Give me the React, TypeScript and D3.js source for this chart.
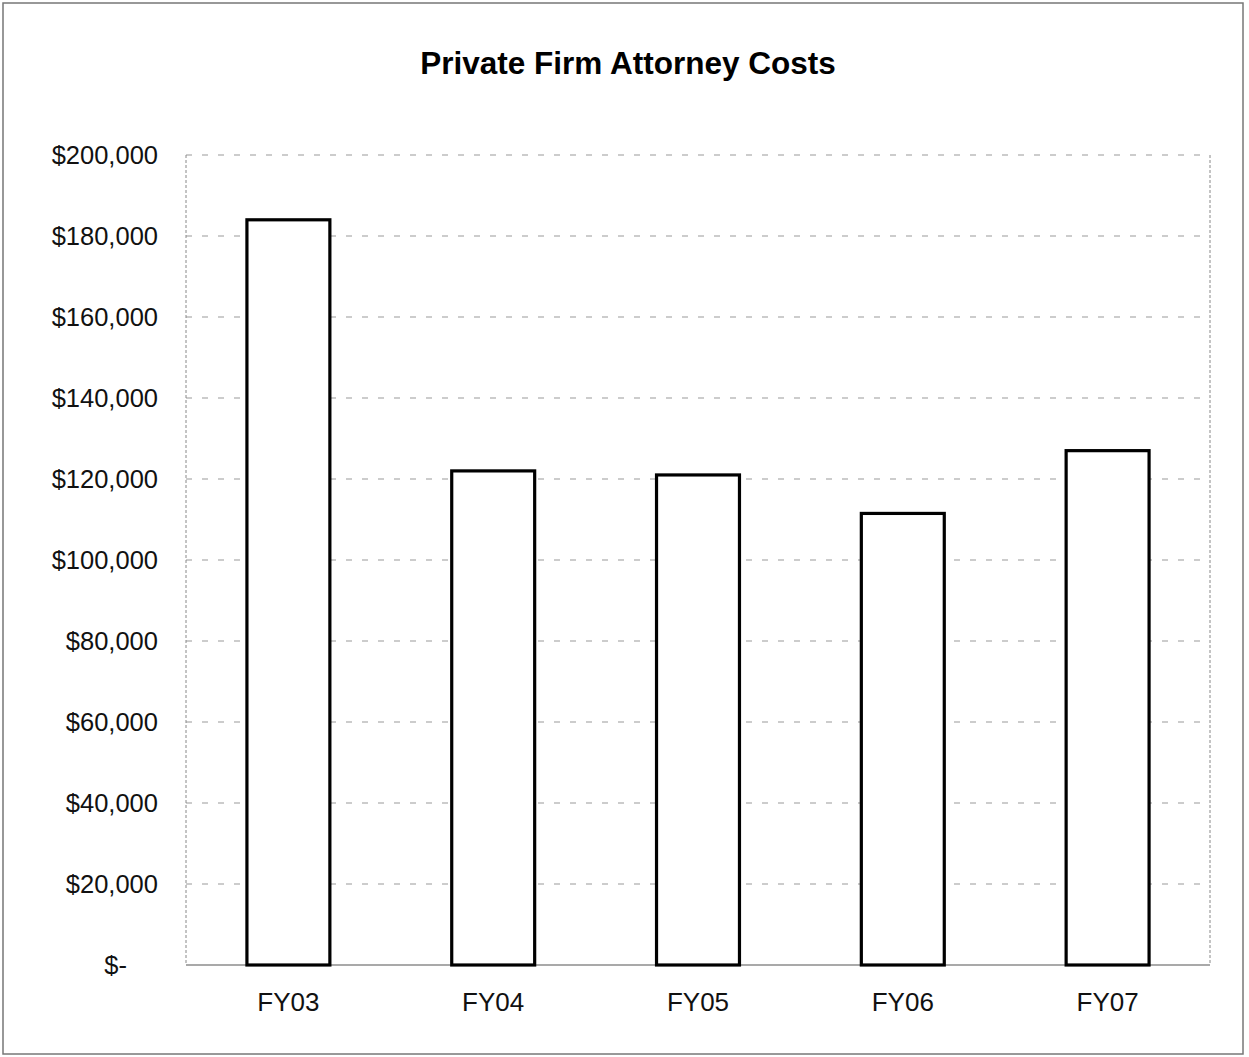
import React from "react";
import * as d3 from "d3";

const categories = ["FY03", "FY04", "FY05", "FY06", "FY07"];
const values = [184000, 122000, 121000, 111500, 127000];
const yTicks = [0, 20000, 40000, 60000, 80000, 100000, 120000, 140000, 160000, 180000, 200000];
const title = "Private Firm Attorney Costs";

export default function App() {
  const W = 1249, H = 1057;
  const left = 186, right = 1210, top = 155, bottom = 965;
  const x = d3.scaleBand<string>().domain(categories).range([left, right]).paddingInner(0.595).paddingOuter(0.2975);
  const y = d3.scaleLinear().domain([0, 200000]).range([bottom, top]);
  const fmt = (v: number) => (v === 0 ? "$-" : "$" + d3.format(",")(v));
  const font = "'Liberation Sans', Arial, sans-serif";
  return (
    <svg width={W} height={H} style={{ position: "absolute", left: 0, top: 0, background: "#fff" }}>
      <rect x={3} y={3} width={1240} height={1051} fill="#fff" stroke="#777" strokeWidth={1.5} />
      <text x={628} y={74} textAnchor="middle" fontFamily={font} fontWeight="bold" fontSize={31.5}>{title}</text>
      {yTicks.map((t) => (
        <g key={t}>
          {t > 0 && (
            <line x1={left} x2={right} y1={y(t)} y2={y(t)} stroke="#999" strokeWidth={1} strokeDasharray="6,10" />
          )}
          <text x={t === 0 ? 127 : 158} y={y(t) + 9} textAnchor="end" fontFamily={font} fontSize={25.5} fill="#111">{fmt(t)}</text>
        </g>
      ))}
      <line x1={left} x2={left} y1={top} y2={bottom} stroke="#888" strokeWidth={1} strokeDasharray="3,2" />
      <line x1={right} x2={right} y1={top} y2={bottom} stroke="#888" strokeWidth={1} strokeDasharray="3,2" />
      <line x1={left} x2={right} y1={bottom} y2={bottom} stroke="#555" strokeWidth={1.2} />
      {categories.map((c, i) => (
        <g key={c}>
          <rect x={x(c)!} y={y(values[i])} width={x.bandwidth()} height={bottom - y(values[i])} fill="#fff" stroke="#000" strokeWidth={3.2} />
          <text x={x(c)! + x.bandwidth() / 2} y={1011} textAnchor="middle" fontFamily={font} fontSize={26} fill="#111">{c}</text>
        </g>
      ))}
    </svg>
  );
}
